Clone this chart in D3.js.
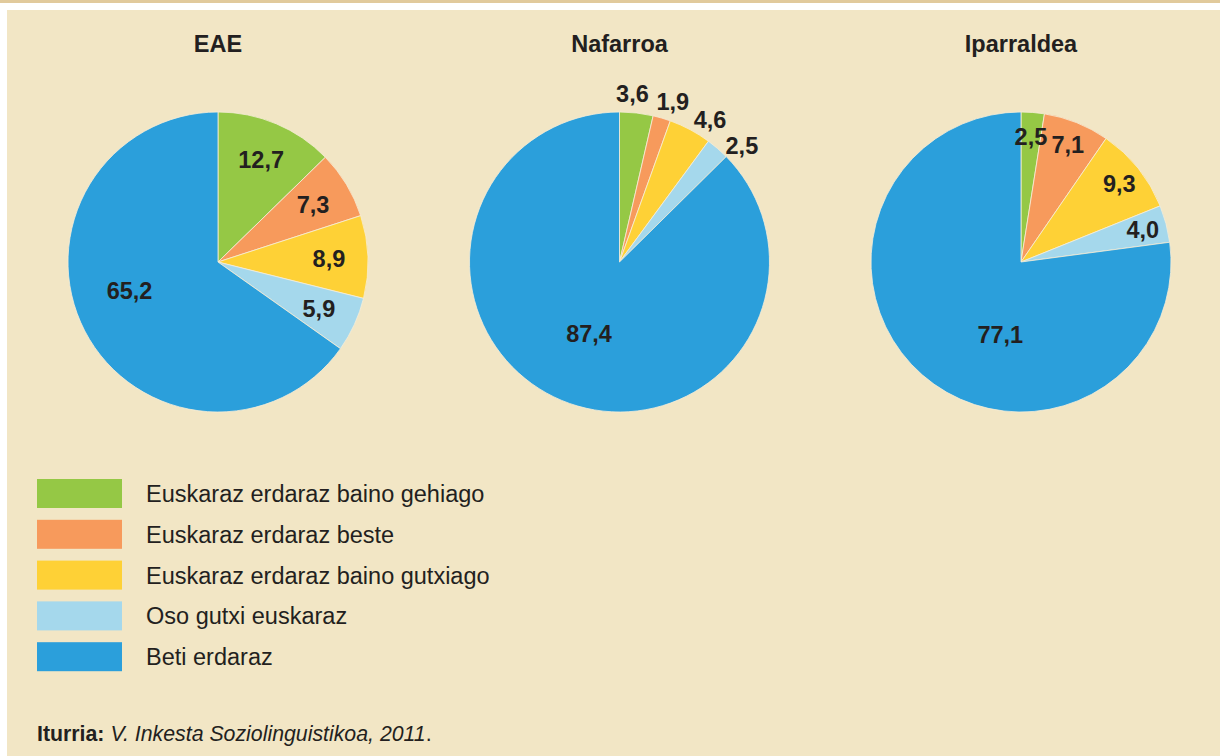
<!DOCTYPE html>
<html>
<head>
<meta charset="utf-8">
<script src="https://cdn.jsdelivr.net/npm/d3@7"></script>
<style>
  body { margin: 0; background: #fff; }
  svg { display: block; font-family: "Liberation Sans", Arial, sans-serif; }
</style>
</head>
<body>
<script>
// data
var categories = ["Euskaraz erdaraz baino gehiago", "Euskaraz erdaraz beste",
                  "Euskaraz erdaraz baino gutxiago", "Oso gutxi euskaraz", "Beti erdaraz"];
var regions = ["EAE", "Nafarroa", "Iparraldea"];
var eaeValues = [12.7, 7.3, 8.9, 5.9, 65.2];
var nafarroaValues = [3.6, 1.9, 4.6, 2.5, 87.4];
var iparraldeaValues = [2.5, 7.1, 9.3, 4.0, 77.1];
var colors = ["#95c845", "#f79a5c", "#fed136", "#a5d8ec", "#2b9fdb"];

var W = 1220, H = 756;
var svg = d3.select("body").append("svg").attr("width", W).attr("height", H);

// background
svg.append("rect").attr("x", 0).attr("y", 0).attr("width", W).attr("height", 3).attr("fill", "#e1ca9c");
svg.append("rect").attr("x", 7).attr("y", 10).attr("width", W - 7).attr("height", H - 10).attr("fill", "#f2e6c5");

var r = 150;
var xPos = d3.scalePoint().domain(regions).range([218, 1021]);
// label placement per pie: small slice label radius, main slice label angle/radius
var layout = {
  "EAE": {labelR: 111, mainA: 252, mainR: 93},
  "Nafarroa": {labelR: 169, mainA: 203, mainR: 78},
  "Iparraldea": {labelR: 126, mainA: 196, mainR: 75}
};
var series = [eaeValues, nafarroaValues, iparraldeaValues];
var minSep = 14 * Math.PI / 180;

var pie = d3.pie().sort(null).value(function(d) { return d; });
var arc = d3.arc().innerRadius(0).outerRadius(r);
var fmt = function(v) { return d3.format(".1f")(v).replace(".", ","); };

regions.forEach(function(name, i) {
  var cx = xPos(name), cy = 262;
  var g = svg.append("g").attr("transform", "translate(" + cx + "," + cy + ")");
  var arcs = pie(series[i]);
  var lay = layout[name];

  g.selectAll("path").data(arcs).enter().append("path")
    .attr("d", arc)
    .attr("fill", function(d, j) { return colors[j]; })
    .attr("stroke", "#f6eed8")
    .attr("stroke-width", 0.8);

  // label angles: centroid, then spread apart (mostly clockwise) where they crowd
  var ang = arcs.map(function(d) { return (d.startAngle + d.endAngle) / 2; });
  ang[ang.length - 1] = lay.mainA * Math.PI / 180;
  for (var it = 0; it < 30; it++) {
    for (var k = 0; k < ang.length - 2; k++) {
      var gap = ang[k + 1] - ang[k];
      if (gap < minSep) {
        var push = minSep - gap;
        ang[k] -= push * 0.3; ang[k + 1] += push * 0.7;
      }
    }
  }

  g.selectAll("text.val").data(arcs).enter().append("text")
    .attr("class", "val")
    .attr("transform", function(d, j) {
      var a = ang[j], rr = (j === arcs.length - 1) ? lay.mainR : lay.labelR;
      return "translate(" + (rr * Math.sin(a)) + "," + (-rr * Math.cos(a)) + ")";
    })
    .attr("text-anchor", "middle")
    .attr("dy", "0.36em")
    .attr("font-size", 23.5)
    .attr("font-weight", "bold")
    .attr("fill", "#231f20")
    .text(function(d) { return fmt(d.data); });

  svg.append("text")
    .attr("x", cx).attr("y", 52)
    .attr("text-anchor", "middle")
    .attr("font-size", 23.5).attr("font-weight", "bold")
    .attr("fill", "#231f20")
    .text(name);
});

// legend
var legend = svg.append("g").attr("transform", "translate(37,479)");
var item = legend.selectAll("g").data(categories).enter().append("g")
  .attr("transform", function(d, i) { return "translate(0," + (i * 40.8) + ")"; });
item.append("rect").attr("width", 85).attr("height", 29)
  .attr("fill", function(d, i) { return colors[i]; });
item.append("text").attr("x", 109).attr("y", 23)
  .attr("font-size", 23.5).attr("fill", "#231f20")
  .text(function(d) { return d; });

// source
var src = svg.append("text").attr("x", 37).attr("y", 741)
  .attr("font-size", 21.3).attr("fill", "#231f20");
src.append("tspan").attr("font-weight", "bold").text("Iturria: ");
src.append("tspan").attr("font-style", "italic").text("V. Inkesta Soziolinguistikoa, 2011");
src.append("tspan").text(".");
</script>
</body>
</html>
